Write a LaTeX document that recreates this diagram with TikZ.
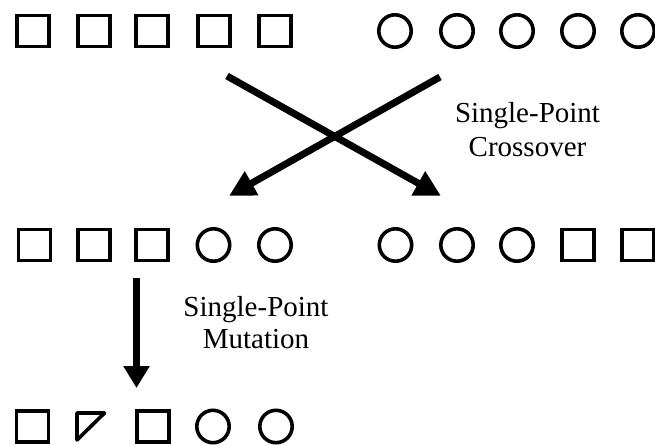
\documentclass[tikz,border=0pt]{standalone}
\usepackage{fontspec}
\setmainfont{Liberation Serif}
\usetikzlibrary{arrows.meta}
\begin{document}
\begin{tikzpicture}[x=1pt,y=-1pt,
  sq/.style={draw=black,line width=3.6pt,minimum width=32pt,minimum height=31pt,inner sep=0pt,outer sep=0pt},
  cir/.style={draw=black,line width=3.6pt,circle,minimum size=32.4pt,inner sep=0pt,outer sep=0pt},
  bigarrow/.style={line width=7pt,-{Triangle[length=26pt,width=26pt]}},
  lbl/.style={font=\fontsize{29}{34}\selectfont,inner sep=0pt,anchor=base}]
\useasboundingbox (0,0) rectangle (655,446);
% top row
\node[sq] (a1) at (33,31) {};
\node[sq] (a2) at (94,31) {};
\node[sq] (a3) at (152,31) {};
\node[sq] (a4) at (214,31) {};
\node[sq] (a5) at (275,31) {};
\node[cir] (b1) at (395,31) {};
\node[cir] (b2) at (457,31) {};
\node[cir] (b3) at (517,31) {};
\node[cir] (b4) at (578,31) {};
\node[cir] (b5) at (638,31) {};
% middle row
\node[sq] (c1) at (34.5,245) {};
\node[sq] (c2) at (94,245) {};
\node[sq] (c3) at (152,245) {};
\node[cir] (c4) at (213.5,245) {};
\node[cir] (c5) at (275,245) {};
\node[cir] (d1) at (395.5,245) {};
\node[cir] (d2) at (457,245) {};
\node[cir] (d3) at (517,245) {};
\node[sq] (d4) at (578,245) {};
\node[sq] (d5) at (638,245) {};
% bottom row
\node[sq] (e1) at (32.5,426.5) {};
\draw[line width=3.6pt,line join=round] (77,413) -- (104.5,413) -- (77,440) -- cycle;
\node[sq] (e3) at (153,426.5) {};
\node[cir] (e4) at (213,426.5) {};
\node[cir] (e5) at (276,426.5) {};
% arrows
\coordinate (x1s) at (227,76);
\coordinate (x1e) at (441,196);
\coordinate (x2s) at (440,77);
\coordinate (x2e) at (229,196);
\draw[bigarrow] (x1s) -- (x1e);
\draw[bigarrow] (x2s) -- (x2e);
\coordinate (ms) at (136.5,278);
\coordinate (me) at (136.5,388);
\draw[line width=7pt,-{Triangle[length=22pt,width=25pt]}] (ms) -- (me);
% labels
\node[lbl] (t1) at (527.5,123) {Single-Point};
\node[lbl] (t2) at (527.5,157) {Crossover};
\node[lbl] (t3) at (256,316) {Single-Point};
\node[lbl] (t4) at (256,348) {Mutation};
\end{tikzpicture}
\end{document}
